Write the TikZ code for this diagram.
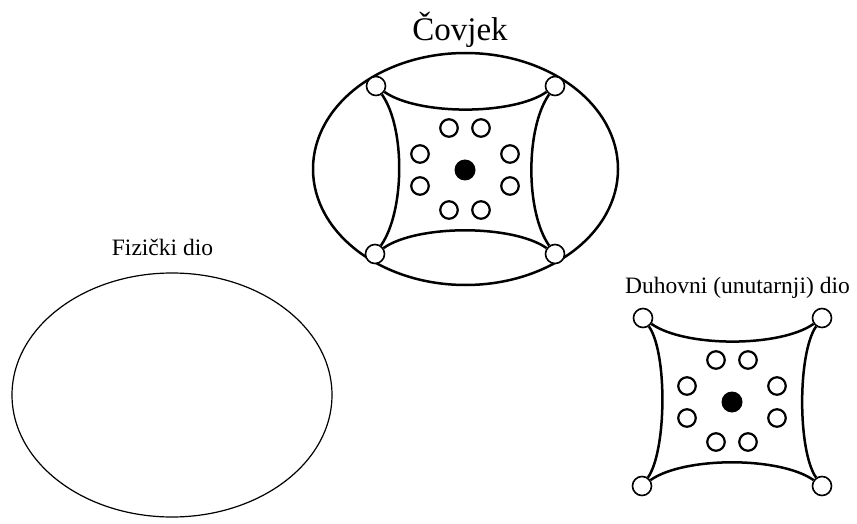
\documentclass[tikz,border=0pt]{standalone}
\usepackage{fontspec}
\setmainfont{Liberation Serif}
\usetikzlibrary{positioning}

\begin{document}
\begin{tikzpicture}[x=1pt, y=1pt,
    every node/.style={font=\fontsize{23.5}{28}\selectfont},
    corner/.style={circle, draw, fill=white, line width=1.6pt, minimum size=19pt, inner sep=0pt},
    ring/.style={circle, draw, fill=white, line width=2.2pt, minimum size=17.5pt, inner sep=0pt},
    core/.style={circle, fill=black, minimum size=21pt, inner sep=0pt},
    rim/.style={line width=2.5pt}]
  % canvas of 857 x 523 units, 1pt per unit
  \useasboundingbox (0,0) rectangle (857,523);

  % Physical part: a plain thin ellipse
  \draw[line width=1.2pt] (172,128) ellipse [x radius=160, y radius=122];
  \node[anchor=base] (fiz) at (162.5,267) {Fizički dio};

  % Whole man: thick outer ellipse round the inner square
  \draw[line width=2.5pt] (465.5,354) ellipse [x radius=152.5, y radius=116];
  \node[anchor=base, font=\fontsize{33}{38}\selectfont] (cov) at (460,482) {Čovjek};

  % Spiritual part on its own
  \node[anchor=base] (duh) at (737.5,230) {Duhovni (unutarnji) dio};

  % Inner square, drawn once inside the man (c) and once alone (d)
  \foreach \p/\cx/\cy/\bend in {c/465/353/0.7, d/732/121/0.55} {
    \begin{scope}[shift={(\cx,\cy)}]
      \node[corner] (\p-tl) at (-89,84) {};
      \node[corner] (\p-tr) at (90,84) {};
      \node[corner] (\p-bl) at (-90,-84) {};
      \node[corner] (\p-br) at (90,-84) {};
      % concave sides
      \draw[rim] (\p-tl) to[out=-35, in=-145, looseness=0.65] (\p-tr);
      \draw[rim] (\p-bl) to[out=35, in=145, looseness=0.65] (\p-br);
      \draw[rim] (\p-tl) to[out=-55, in=55, looseness=\bend] (\p-bl);
      \draw[rim] (\p-tr) to[out=-125, in=125, looseness=\bend] (\p-br);
      % eight small rings round the core
      \foreach \k/\rx/\ry in {1/-16/42, 2/16/42, 3/-45/16, 4/-45/-16,
                              5/45/16, 6/45/-16, 7/-16/-40, 8/16/-40}
        \node[ring] (\p-r\k) at (\rx,\ry) {};
      \node[core] (\p-core) at (0,0) {};
    \end{scope}
  }
\end{tikzpicture}
\end{document}
